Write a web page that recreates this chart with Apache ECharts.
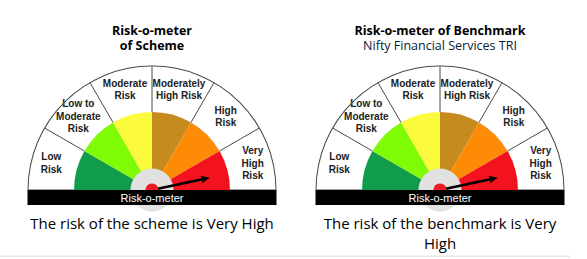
<!DOCTYPE html>
<html>
<head>
<meta charset="utf-8">
<script src="https://cdn.jsdelivr.net/npm/echarts@6/dist/echarts.min.js"></script>
<style>
html,body{margin:0;padding:0;background:#fff;}
#chart{width:587px;height:259px;}
</style>
</head>
<body>
<div id="chart"></div>
<script>
// ---- data ----
const riskLevels = ['Low Risk', 'Low to Moderate Risk', 'Moderate Risk', 'Moderately High Risk', 'High Risk', 'Very High Risk'];
const riskLabels = ['Low\nRisk', 'Low to\nModerate\nRisk', 'Moderate\nRisk', 'Moderately\nHigh Risk', 'High\nRisk', 'Very\nHigh\nRisk'];
const segmentValues = [1, 1, 1, 1, 1, 1];
const segmentColors = ['#119c4b', '#80fb06', '#fcfa3c', '#c68b1f', '#fd8b05', '#f2131f'];
const needleValues = [5.6, 5.6]; // position on 0..6 scale (Very High)
const titleLine1 = ['Risk-o-meter', 'Risk-o-meter of Benchmark'];
const titleLine2 = ['of Scheme', 'Nifty Financial Services TRI'];
const titleLine2Bold = [true, false];
const captions = ['The risk of the scheme is Very High', 'The risk of the benchmark is Very\nHigh'];
const meterName = 'Risk-o-meter';

// ---- layout ----
const centers = [[152, 190], [440, 190]];
const R_OUT = 124.5, R_COL = 78, R_HUB = 21.5;

const chart = echarts.init(document.getElementById('chart'), null, {renderer: 'svg'});
const series = [];
const graphic = [];

centers.forEach((c, gi) => {
  // colored sectors
  series.push({
    type: 'pie', center: c, radius: [0, R_COL], startAngle: 180, endAngle: 0,
    silent: true, animation: false, z: 2,
    label: {show: false}, labelLine: {show: false},
    data: riskLevels.map((n, i) => ({name: n, value: segmentValues[i], itemStyle: {color: segmentColors[i]}}))
  });
  // label ring
  series.push({
    type: 'pie', center: c, radius: [R_COL, R_OUT], startAngle: 180, endAngle: 0,
    silent: true, animation: false, z: 1,
    itemStyle: {color: 'rgba(255,255,255,0)'},
    label: {show: true, position: 'inside', formatter: p => riskLabels[p.dataIndex],
      fontFamily: 'Liberation Sans, Arial, sans-serif', fontWeight: 'bold', fontSize: 10,
      lineHeight: 12.5, color: '#222'},
    labelLine: {show: false},
    data: riskLevels.map((n, i) => ({name: n, value: segmentValues[i]}))
  });
  // hub
  series.push({
    type: 'pie', center: c, radius: [0, R_HUB], silent: true, animation: false, z: 3,
    label: {show: false}, labelLine: {show: false},
    data: [{name: 'hub', value: 1, itemStyle: {color: '#e1e1e1'}}]
  });
  // outline + needle
  series.push({
    type: 'gauge', center: c, radius: R_OUT, startAngle: 180, endAngle: 0,
    min: 0, max: 6, splitNumber: 6, animation: false, silent: true, z: 4,
    axisLine: {lineStyle: {width: 1, color: [[1, '#4a4a4a']]}},
    splitLine: {distance: 0, length: R_OUT - 1 - R_COL, lineStyle: {color: '#4a4a4a', width: 1}},
    axisTick: {show: false}, axisLabel: {show: false},
    pointer: {icon: 'path://M40 0 L80 90 L53 75 L53 590 L27 590 L27 75 L0 90 Z', length: 59, width: 8,
      offsetCenter: [0, 0], itemStyle: {color: '#000'}},
    anchor: {show: true, showAbove: true, size: 13, itemStyle: {color: '#ec1c24'}},
    title: {show: false}, detail: {show: false},
    data: [{value: needleValues[gi], name: riskLevels[5]}]
  });
  // bar
  graphic.push({
    type: 'rect', z: 100, shape: {x: c[0] - R_OUT, y: c[1], width: 2 * R_OUT, height: 15},
    style: {fill: '#000'}
  });
  graphic.push({
    type: 'text', z: 101, x: c[0], y: c[1] + 8,
    style: {text: meterName, fill: '#fff', font: '11px "Liberation Sans", Arial, sans-serif',
      textAlign: 'center', textVerticalAlign: 'middle'}
  });
  // titles
  graphic.push({
    type: 'text', z: 100, x: c[0], y: 30,
    style: {text: titleLine1[gi], fill: '#000', font: 'bold 12.5px "Open Sans", sans-serif',
      lineHeight: 14, textAlign: 'center', textVerticalAlign: 'middle'}
  });
  graphic.push({
    type: 'text', z: 100, x: c[0], y: 45.5,
    style: {text: titleLine2[gi], fill: titleLine2Bold[gi] ? '#000' : '#0a1a33',
      font: (titleLine2Bold[gi] ? 'bold ' : '') + '12.5px "Open Sans", sans-serif',
      lineHeight: 14, textAlign: 'center', textVerticalAlign: 'middle'}
  });
  graphic.push({
    type: 'text', z: 100, x: c[0], y: 213,
    style: {text: captions[gi], fill: '#000', font: '15px "Open Sans", sans-serif',
      lineHeight: 20, textAlign: 'center', textVerticalAlign: 'top'}
  });
});

graphic.push({type: 'rect', z: 100, shape: {x: 0, y: 255.5, width: 570, height: 1.5}, style: {fill: '#e6e6e6'}});

chart.setOption({animation: false, series: series, graphic: graphic});
</script>
</body>
</html>
